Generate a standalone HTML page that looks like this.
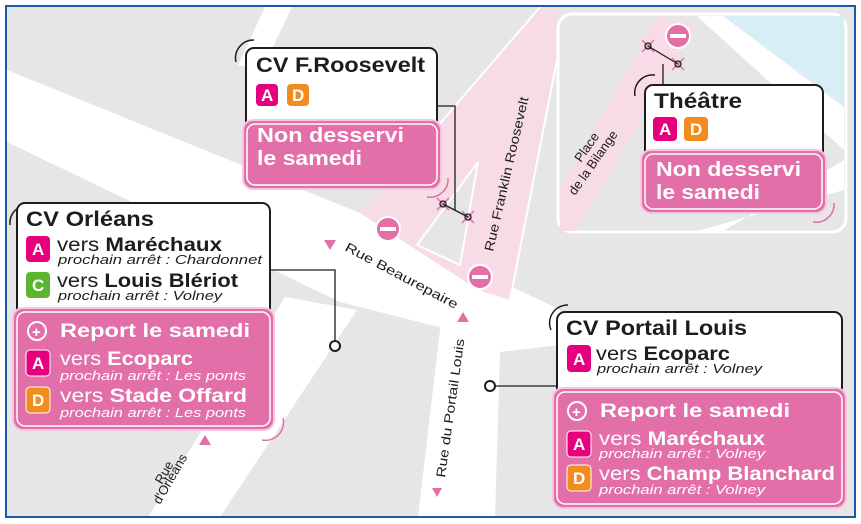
<!DOCTYPE html>
<html><head><meta charset="utf-8"><style>
html,body{margin:0;padding:0;background:#fff}
svg{display:block}
text{font-family:"Liberation Sans",sans-serif}
.t{font-weight:bold;font-size:21px;fill:#1d1d1b}
.w{font-weight:bold;fill:#fff}
.v{font-size:19px;fill:#1d1d1b}
.vp{font-size:19px;fill:#fff}
.s{font-size:13px;font-style:italic;fill:#1d1d1b}
.sp{font-size:13px;font-style:italic;fill:#fff}
.st{font-size:13px;fill:#1d1d1b}
.bl{font-weight:bold;font-size:17px;fill:#fff}
</style></head><body>
<svg width="861" height="524" viewBox="0 0 861 524" xmlns="http://www.w3.org/2000/svg">
<rect x="0" y="0" width="861" height="524" fill="#fff"/>
<rect x="7" y="7" width="848" height="510" fill="#e6e6e6"/>
<!-- roads -->
<polygon points="265,7 292,7 262,70 238,65" fill="#fff"/>
<polygon points="7,70 360,213 560,310 560,345 470,335 340,302 7,142" fill="#fff"/>
<polygon points="285,297 357,310 220,517 148,517" fill="#fff"/>
<polygon points="440,300 500,330 560,335 560,345 500,352 495,517 418,517 440,330" fill="#fff"/>
<!-- pink Franklin Roosevelt area -->
<polygon points="540,7 557,7 557,60 510,300 478,290 360,213 383,190" fill="#f7dbe6"/>
<line x1="540" y1="7" x2="383" y2="190" stroke="#fff" stroke-width="2"/>
<polygon points="478,162 460,265 417,245" fill="#e6e6e6" stroke="#fff" stroke-width="2"/>
<line x1="557" y1="60" x2="510" y2="300" stroke="#fff" stroke-width="2"/>
<!-- inset Théâtre -->
<rect x="558" y="14" width="288" height="218" rx="14" fill="#e6e6e6" stroke="#fff" stroke-width="3"/>
<polygon points="723,16 844,16 844,107" fill="#d8eef5"/>
<polygon points="697,16 723,16 844,107 844,150" fill="#fff"/>
<polygon points="697,231 723,231 844,160 844,190" fill="#fff"/>
<polygon points="657,17 695,25 576,231 560,231 560,190" fill="#f7dbe6"/>
<!-- no entry signs -->
<g fill="#e36fa8" stroke="#fff" stroke-width="2">
<circle cx="388" cy="229" r="12"/><circle cx="480" cy="277" r="12"/><circle cx="678" cy="36" r="12"/>
</g>
<g fill="#fff"><rect x="380" y="227" width="16" height="4"/><rect x="472" y="275" width="16" height="4"/><rect x="670" y="34" width="16" height="4"/></g>
<!-- stop markers -->
<g stroke="#e36fa8" stroke-width="1.5">
<path d="M437 198l12 12M449 198l-12 12M462 211l12 12M474 211l-12 12M642 40l12 12M654 40l-12 12M672 58l12 12M684 58l-12 12"/>
</g>
<g stroke="#1d1d1b" fill="none" stroke-width="1.3">
<circle cx="443" cy="204" r="3"/><circle cx="468" cy="217" r="3"/><circle cx="648" cy="46" r="3"/><circle cx="678" cy="64" r="3"/>
<line x1="443" y1="204" x2="468" y2="217"/><line x1="648" y1="46" x2="678" y2="64"/>
<polyline points="437,106 455,106 455,210"/>
<line x1="663" y1="64" x2="663" y2="86"/>
<polyline points="270,270 335,270 335,345"/>
<line x1="490" y1="386" x2="558" y2="386"/>
</g>
<circle cx="335" cy="346" r="5" fill="#fff" stroke="#1d1d1b" stroke-width="2"/>
<circle cx="490" cy="386" r="5" fill="#fff" stroke="#1d1d1b" stroke-width="2"/>
<!-- street labels -->
<g fill="#e36fa8">
<polygon points="324,240 336,240 330,250"/><polygon points="457,322 469,322 463,312"/>
<polygon points="199,445 211,445 205,435"/><polygon points="432,488 442,488 437,497"/>
</g>
<text class="st" transform="translate(344,250) rotate(28)" textLength="126" lengthAdjust="spacingAndGlyphs">Rue Beaurepaire</text>
<text class="st" transform="translate(493,252) rotate(-77)" textLength="158" lengthAdjust="spacingAndGlyphs">Rue Franklin Roosevelt</text>
<text class="st" transform="translate(445,478) rotate(-82)" textLength="140" lengthAdjust="spacingAndGlyphs">Rue du Portail Louis</text>
<text class="st" transform="translate(162,485) rotate(-60)">Rue</text>
<text class="st" transform="translate(160,505) rotate(-60)">d'Orléans</text>
<text class="st" transform="translate(581,163) rotate(-55)">Place</text>
<text class="st" transform="translate(575,196) rotate(-55)">de la Bilange</text>
<!-- decorative arcs -->
<g fill="none" stroke-width="1.5">
<path d="M236 62 A18 18 0 0 1 254 40" stroke="#1d1d1b"/>
<path d="M10 225 A18 18 0 0 1 28 205" stroke="#1d1d1b"/>
<path d="M551 330 A18 18 0 0 1 568 305" stroke="#1d1d1b"/>
<path d="M635 96 A18 18 0 0 1 655 75" stroke="#1d1d1b"/>
<path d="M448 178 A18 18 0 0 1 427 197" stroke="#e36fa8"/>
<path d="M283 418 A18 18 0 0 1 262 440" stroke="#e36fa8"/>
<path d="M834 203 A18 18 0 0 1 813 222" stroke="#e36fa8"/>
</g>
<!-- CV F.Roosevelt -->
<rect x="246" y="48" width="191" height="90" rx="8" fill="#fff" stroke="#1d1d1b" stroke-width="2"/>
<text class="t" x="256" y="72" textLength="169" lengthAdjust="spacingAndGlyphs">CV F.Roosevelt</text>
<rect x="256" y="84" width="22" height="22" rx="4" fill="#e6007e"/><text class="bl" x="261" y="101">A</text>
<rect x="287" y="84" width="22" height="22" rx="4" fill="#f28c1f"/><text class="bl" x="292" y="101">D</text>
<rect x="243" y="120" width="198" height="69" rx="10" fill="#e36fa8" stroke="#f7c6dc" stroke-width="2"/>
<rect x="247" y="124" width="190" height="61" rx="8" fill="none" stroke="#fff" stroke-width="1.5"/>
<text class="w" x="257" y="142" font-size="20" textLength="147" lengthAdjust="spacingAndGlyphs">Non desservi</text>
<text class="w" x="257" y="165" font-size="20" textLength="105" lengthAdjust="spacingAndGlyphs">le samedi</text>
<!-- CV Orléans -->
<rect x="17" y="203" width="253" height="125" rx="8" fill="#fff" stroke="#1d1d1b" stroke-width="2"/>
<text class="t" x="26" y="226" textLength="128" lengthAdjust="spacingAndGlyphs">CV Orléans</text>
<rect x="26" y="236" width="24" height="26" rx="4" fill="#e6007e"/><text class="bl" x="32" y="255">A</text>
<text class="v" x="57" y="251" textLength="165" lengthAdjust="spacingAndGlyphs">vers <tspan font-weight="bold">Maréchaux</tspan></text>
<text class="s" x="58" y="264" textLength="204" lengthAdjust="spacingAndGlyphs">prochain arrêt : Chardonnet</text>
<rect x="26" y="272" width="24" height="26" rx="4" fill="#5cb531"/><text class="bl" x="32" y="291">C</text>
<text class="v" x="57" y="287" textLength="181" lengthAdjust="spacingAndGlyphs">vers <tspan font-weight="bold">Louis Blériot</tspan></text>
<text class="s" x="58" y="300" textLength="164" lengthAdjust="spacingAndGlyphs">prochain arrêt : Volney</text>
<rect x="13" y="308" width="261" height="122" rx="10" fill="#e36fa8" stroke="#f7c6dc" stroke-width="2"/>
<rect x="17" y="312" width="253" height="114" rx="8" fill="none" stroke="#fff" stroke-width="1.5"/>
<circle cx="37" cy="331" r="9" fill="none" stroke="#fff" stroke-width="2"/><text class="w" x="32" y="337" font-size="15">+</text>
<text class="w" x="60" y="337" font-size="19" textLength="190" lengthAdjust="spacingAndGlyphs">Report le samedi</text>
<rect x="26" y="350" width="24" height="26" rx="4" fill="#e6007e" stroke="#fff"/><text class="bl" x="32" y="369">A</text>
<text class="vp" x="60" y="365" textLength="133" lengthAdjust="spacingAndGlyphs">vers <tspan font-weight="bold">Ecoparc</tspan></text>
<text class="sp" x="60" y="380" textLength="186" lengthAdjust="spacingAndGlyphs">prochain arrêt : Les ponts</text>
<rect x="26" y="387" width="24" height="26" rx="4" fill="#f28c1f" stroke="#fff"/><text class="bl" x="32" y="406">D</text>
<text class="vp" x="60" y="402" textLength="187" lengthAdjust="spacingAndGlyphs">vers <tspan font-weight="bold">Stade Offard</tspan></text>
<text class="sp" x="60" y="417" textLength="186" lengthAdjust="spacingAndGlyphs">prochain arrêt : Les ponts</text>
<!-- CV Portail Louis -->
<rect x="557" y="312" width="285" height="90" rx="8" fill="#fff" stroke="#1d1d1b" stroke-width="2"/>
<text class="t" x="566" y="335" textLength="181" lengthAdjust="spacingAndGlyphs">CV Portail Louis</text>
<rect x="567" y="345" width="24" height="27" rx="4" fill="#e6007e"/><text class="bl" x="573" y="365">A</text>
<text class="v" x="596" y="360" textLength="134" lengthAdjust="spacingAndGlyphs">vers <tspan font-weight="bold">Ecoparc</tspan></text>
<text class="s" x="597" y="373" textLength="165" lengthAdjust="spacingAndGlyphs">prochain arrêt : Volney</text>
<rect x="553" y="388" width="293" height="120" rx="10" fill="#e36fa8" stroke="#f7c6dc" stroke-width="2"/>
<rect x="557" y="392" width="285" height="112" rx="8" fill="none" stroke="#fff" stroke-width="1.5"/>
<circle cx="577" cy="411" r="9" fill="none" stroke="#fff" stroke-width="2"/><text class="w" x="572" y="417" font-size="15">+</text>
<text class="w" x="600" y="417" font-size="19" textLength="190" lengthAdjust="spacingAndGlyphs">Report le samedi</text>
<rect x="567" y="431" width="24" height="26" rx="4" fill="#e6007e" stroke="#fff"/><text class="bl" x="573" y="450">A</text>
<text class="vp" x="599" y="445" textLength="166" lengthAdjust="spacingAndGlyphs">vers <tspan font-weight="bold">Maréchaux</tspan></text>
<text class="sp" x="599" y="458" textLength="166" lengthAdjust="spacingAndGlyphs">prochain arrêt : Volney</text>
<rect x="567" y="465" width="24" height="26" rx="4" fill="#f28c1f" stroke="#fff"/><text class="bl" x="573" y="484">D</text>
<text class="vp" x="599" y="480" textLength="236" lengthAdjust="spacingAndGlyphs">vers <tspan font-weight="bold">Champ Blanchard</tspan></text>
<text class="sp" x="599" y="494" textLength="166" lengthAdjust="spacingAndGlyphs">prochain arrêt : Volney</text>
<!-- Théâtre -->
<rect x="645" y="85" width="178" height="75" rx="8" fill="#fff" stroke="#1d1d1b" stroke-width="2"/>
<text class="t" x="654" y="108" textLength="88" lengthAdjust="spacingAndGlyphs">Théâtre</text>
<rect x="653" y="117" width="24" height="24" rx="4" fill="#e6007e"/><text class="bl" x="659" y="135">A</text>
<rect x="684" y="117" width="24" height="24" rx="4" fill="#f28c1f"/><text class="bl" x="690" y="135">D</text>
<rect x="641" y="150" width="185" height="63" rx="10" fill="#e36fa8" stroke="#f7c6dc" stroke-width="2"/>
<rect x="645" y="154" width="177" height="55" rx="8" fill="none" stroke="#fff" stroke-width="1.5"/>
<text class="w" x="656" y="176" font-size="20" textLength="145" lengthAdjust="spacingAndGlyphs">Non desservi</text>
<text class="w" x="656" y="199" font-size="20" textLength="104" lengthAdjust="spacingAndGlyphs">le samedi</text>
<!-- frame -->
<rect x="6" y="6" width="849" height="511" fill="none" stroke="#1a5aa8" stroke-width="2"/>
</svg>
</body></html>
